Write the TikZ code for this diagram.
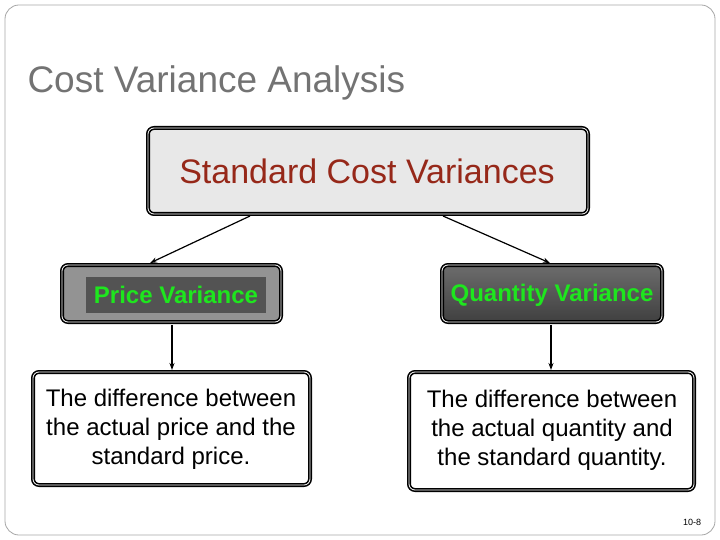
\documentclass[tikz,border=0pt]{standalone}
\usepackage{fontspec}
\setmainfont{Liberation Sans}
\usetikzlibrary{arrows.meta}
\definecolor{topred}{RGB}{150,40,25}
\definecolor{vgreen}{RGB}{30,230,30}
\begin{document}
\begin{tikzpicture}[x=1pt,y=-1pt,
  box/.style={draw=black,line width=1.6pt,rounded corners=6pt,double=white,double distance=0.8pt},
  arr/.style={line width=1.2pt,-{Stealth[length=7pt,width=5pt]}},
  desc/.style={font=\fontsize{24}{29}\selectfont,align=center,text=black}]
\useasboundingbox (0,0) rectangle (720,540);
\draw[gray!70,line width=0.8pt,rounded corners=14pt] (5,5) rectangle (715,535);
\node[anchor=west,text=gray!90!black,font=\fontsize{37}{42}\selectfont] (title) at (24,83) {Cost Variance Analysis};
\draw[box,fill=gray!18] (148,128) rectangle (588,214);
\node[text=topred,font=\fontsize{34}{38}\selectfont] (top) at (367,171) {Standard Cost Variances};
\coordinate (topa) at (250,216); \coordinate (topb) at (443,216);
\draw[box,fill=gray!85] (62,265) rectangle (281,322);
\node[fill=gray!65!black,text=vgreen,font=\bfseries\fontsize{24}{27}\selectfont,minimum width=180pt,minimum height=36pt,inner xsep=0pt] (pv) at (176,295) {Price Variance};
\shade[top color=gray!85!black,bottom color=black!75,rounded corners=6pt] (442,265) rectangle (662,322);
\draw[box] (442,265) rectangle (662,322);
\node[text=vgreen,font=\bfseries\fontsize{24}{27}\selectfont] (qv) at (552,295) {Quantity Variance};
\draw[box,fill=white] (33,372) rectangle (310,485);
\node[desc] (pd) at (171,429) {The difference between\\the actual price and the\\standard price.};
\draw[box,fill=white] (409,372) rectangle (694,490);
\node[desc] (qd) at (552,430) {The difference between\\the actual quantity and\\the standard quantity.};
\coordinate (pvt) at (150,263); \coordinate (qvt) at (550,263);
\draw[arr] (topa) -- (pvt);
\draw[arr] (topb) -- (qvt);
\coordinate (pvb) at (172,325); \coordinate (pdt) at (172,370);
\coordinate (qvb) at (551,325); \coordinate (qdt) at (551,370);
\draw[arr] (pvb) -- (pdt);
\draw[arr] (qvb) -- (qdt);
\node[font=\fontsize{9}{10}\selectfont] (num) at (692,522) {10-8};
\end{tikzpicture}
\end{document}
